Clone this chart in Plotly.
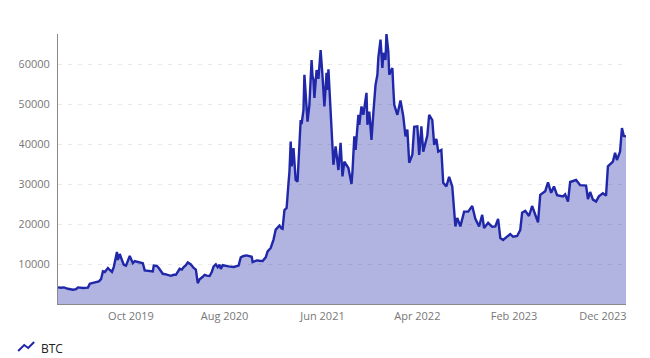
import pandas as pd
import plotly.graph_objects as go

start_date = "2019-02-14"
end_date = "2024-02-09"
days_since_start = [0,10,19,32,48,58,64,80,96,102,112,131,138,144,150,160,166,173,179,186,189,192,195,198,205,211,218,224,230,240,246,256,266,272,278,291,304,307,317,323,330,336,346,362,371,378,390,397,403,410,416,426,435,442,448,454,464,470,477,486,493,499,506,512,518,522,528,538,547,563,579,586,595,605,614,621,624,637,646,656,666,672,682,688,691,698,704,710,717,720,726,733,739,742,746,749,752,755,762,768,771,778,781,787,790,797,800,806,813,816,819,822,829,835,838,842,848,854,861,864,867,874,880,883,890,896,899,906,912,918,925,931,941,944,950,954,963,966,973,979,989,992,998,1005,1011,1018,1024,1027,1034,1040,1043,1050,1053,1059,1062,1072,1075,1078,1088,1098,1107,1114,1120,1126,1136,1142,1152,1158,1165,1171,1184,1190,1200,1206,1213,1219,1229,1235,1245,1254,1264,1274,1280,1290,1302,1315,1328,1338,1350,1360,1366,1379,1392,1402,1411,1418,1427,1437,1450,1459,1472,1482,1488,1498,1510,1520,1530,1539,1546,1562,1571,1581,1590,1600,1619,1626,1635,1642,1661,1674,1693,1699,1706,1715,1725,1734,1747,1757,1763,1779,1786,1792,1802,1808,1814,1821]
btc_price = [4150,4050,4150,3800,3575,3700,4150,4000,4100,5075,5300,5650,6200,8150,8000,9000,8500,8000,9300,12000,13000,11000,11700,12500,11000,9800,9600,10800,12000,10200,10700,10500,10300,10200,8400,8300,8150,9600,9500,9000,8200,7550,7400,7050,7300,7300,8800,8600,9250,9700,10400,9900,9000,8600,5200,6200,6800,7300,7100,7000,8000,9400,9900,9200,9800,8750,9700,9500,9400,9250,9600,11650,12000,12150,12000,11800,10500,10900,10800,10750,11650,13150,14000,15400,16100,18600,19000,19600,18900,18800,23500,24000,30300,33000,40600,34400,36000,39000,31000,30600,35300,46000,45000,48500,57300,50000,45600,49800,61000,57000,56000,51500,58500,56300,59000,63500,57000,49400,57800,53500,58700,49400,38500,34800,39400,34800,33500,40300,31900,35600,34800,34000,30000,33000,41900,38500,47300,44800,49400,47300,52800,44800,48100,41000,47800,54800,57300,61600,66100,59000,62800,61000,67500,63100,57300,59000,54000,49800,47300,50900,46900,41900,43600,35300,37300,44300,44400,37300,44400,38100,42100,47300,46000,39800,41300,38100,38500,30300,29400,31800,29400,19400,21500,19400,23100,23100,24500,21300,19400,22300,19000,20300,19300,19400,21300,16500,16000,16600,17500,16800,17000,18500,22800,23300,22000,24500,22300,20400,27300,28200,30400,27800,29400,27200,26900,27400,25600,30500,31000,29700,29600,26200,28000,26100,25600,26900,27700,27100,34400,35600,37800,36000,38100,44000,42000,41900]
x_tick_dates = ["2019-10-06","2020-08-01","2021-06-11","2022-04-11","2023-02-15","2023-11-27"]
x_tick_labels = ["Oct 2019","Aug 2020","Jun 2021","Apr 2022","Feb 2023","Dec 2023"]
y_tick_values = [10000,20000,30000,40000,50000,60000,67500]
y_tick_labels = ["$10000","$20000","$30000","$40000","$50000","$60000",""]
series_name = "BTC"

dates = pd.Timestamp(start_date) + pd.to_timedelta(days_since_start, unit="D")

L, R, T, B = 55, 626, 34, 304
W, H = 650, 358
px = lambda v: (v - L) / (R - L)
py = lambda v: (B - v) / (B - T)

fig = go.Figure(go.Scatter(
    x=dates, y=btc_price, mode="lines", name=series_name,
    line=dict(color="#2027a8", width=2.4),
    fill="tozeroy", fillcolor="rgba(32,39,168,0.35)",
    showlegend=False, hoverinfo="x+y",
))

icon = [(15, 351), (21, 345), (25, 348), (31, 342)]
path = "M " + " L ".join(f"{px(a):.4f} {py(b):.4f}" for a, b in icon)

fig.update_layout(
    width=W, height=H, autosize=False,
    margin=dict(l=L, r=W - R, t=T, b=H - B),
    paper_bgcolor="white", plot_bgcolor="white",
    font=dict(family="Open Sans, Liberation Sans, sans-serif", size=11, color="#777"),
    xaxis=dict(
        type="date", range=[start_date, end_date],
        tickmode="array", tickvals=x_tick_dates, ticktext=x_tick_labels,
        showgrid=False, zeroline=False, ticks="outside", ticklen=2, tickcolor="rgba(0,0,0,0)",
        showline=True, linecolor="#888", linewidth=1,
        tickangle=0,
    ),
    yaxis=dict(
        range=[0, 67500], tickmode="array", tickvals=y_tick_values, ticktext=y_tick_labels,
        showgrid=True, gridcolor="#e9e9e9", griddash="4px,6px", gridwidth=1,
        zeroline=False, ticks="outside", ticklen=5, tickcolor="rgba(0,0,0,0)",
        showline=True, linecolor="#888", linewidth=1,
    ),
    shapes=[
        dict(type="rect", xref="paper", yref="paper", layer="above",
             x0=px(0), x1=px(16), y0=py(T), y1=py(B), fillcolor="white", line_width=0),
        dict(type="path", xref="paper", yref="paper", layer="above", path=path,
             line=dict(color="#2027a8", width=2)),
    ],
    annotations=[
        dict(text=series_name, xref="paper", yref="paper", x=px(35.5), y=py(348),
             xanchor="left", yanchor="middle", showarrow=False,
             font=dict(color="#222", size=12)),
    ],
)

fig.write_html("out.html", config={"displayModeBar": False},
               post_script="document.body.style.margin='0';document.documentElement.style.overflow='hidden';")
